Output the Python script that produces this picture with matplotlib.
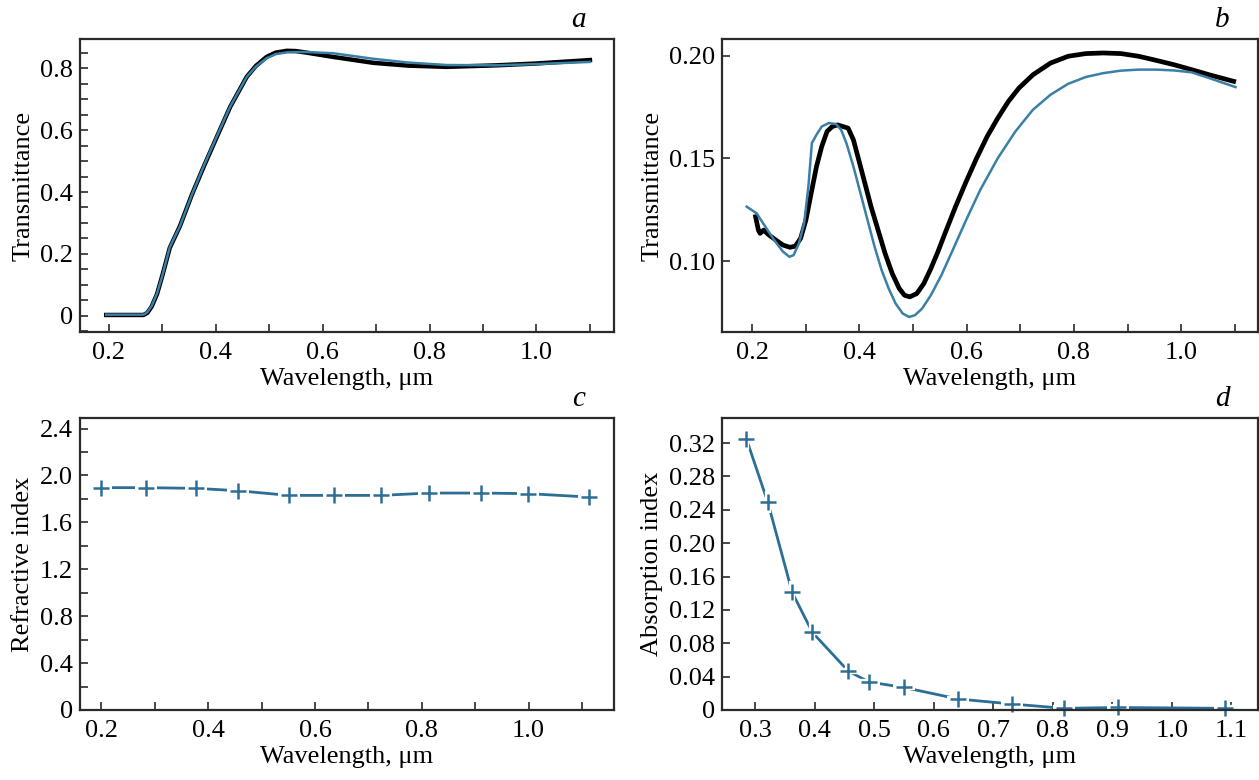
import numpy as np
import matplotlib
matplotlib.use("Agg")
import matplotlib.pyplot as plt
from matplotlib.ticker import MultipleLocator, FixedLocator, FuncFormatter

plt.rcParams['font.family'] = ['Liberation Serif', 'DejaVu Serif']
plt.rcParams['font.size'] = 19

blue = '#3a7fa6'
mark = '#2d6e96'

# panel a: measured (black) and calculated (blue) transmittance
wl_a_meas = [0.195, 0.265, 0.272, 0.28, 0.29, 0.3, 0.314, 0.333, 0.355, 0.377, 0.402, 0.427,
             0.458, 0.475, 0.495, 0.512, 0.533, 0.55, 0.57, 0.62, 0.695, 0.76, 0.832, 0.926, 1.0, 1.1]
t_a_meas = [0.003, 0.003, 0.01, 0.03, 0.07, 0.13, 0.22, 0.29, 0.39, 0.48, 0.578, 0.675,
            0.772, 0.807, 0.836, 0.85, 0.856, 0.855, 0.850, 0.836, 0.817, 0.808, 0.804, 0.809, 0.815, 0.826]
wl_a_calc = [0.195, 0.265, 0.272, 0.28, 0.29, 0.3, 0.314, 0.333, 0.355, 0.377, 0.402, 0.427,
             0.458, 0.475, 0.495, 0.512, 0.533, 0.55, 0.57, 0.62, 0.695, 0.76, 0.832, 0.926, 1.0, 1.1]
t_a_calc = [0.004, 0.004, 0.012, 0.032, 0.072, 0.13, 0.222, 0.29, 0.39, 0.482, 0.58, 0.676,
            0.772, 0.805, 0.832, 0.845, 0.851, 0.852, 0.852, 0.848, 0.83, 0.818, 0.810, 0.809, 0.813, 0.820]

# panel b
wl_b_meas = [0.2066, 0.2118, 0.215, 0.2217, 0.2315, 0.2446, 0.2577, 0.2709, 0.2807, 0.2906,
             0.3004, 0.3102, 0.3201, 0.3299, 0.3398, 0.3496, 0.3595, 0.3693, 0.3791, 0.389,
             0.3988, 0.4087, 0.4218, 0.4349, 0.448, 0.4612, 0.4743, 0.4841, 0.494, 0.5071,
             0.5202, 0.5333, 0.5465, 0.5596, 0.5793, 0.599, 0.6186, 0.6383, 0.658, 0.6777,
             0.6974, 0.7236, 0.7564, 0.7892, 0.822, 0.8549, 0.8877, 0.9205, 0.9533, 0.9862,
             1.019, 1.0518, 1.0976]
t_b_meas = [0.1216, 0.1151, 0.1135, 0.1151, 0.1127, 0.1102, 0.1078, 0.1067, 0.1073, 0.1111,
            0.12, 0.133, 0.146, 0.1558, 0.1631, 0.1655, 0.1663, 0.1655, 0.1647, 0.159,
            0.1493, 0.1395, 0.1265, 0.1151, 0.1037, 0.094, 0.0867, 0.0834, 0.0826, 0.0842,
            0.0891, 0.0964, 0.1046, 0.1135, 0.1265, 0.1387, 0.1501, 0.1607, 0.1696, 0.1777,
            0.1842, 0.1907, 0.1964, 0.1997, 0.201, 0.2013, 0.201, 0.1997, 0.1977, 0.1956,
            0.1932, 0.1907, 0.1875]
wl_b_calc = [0.190, 0.2085, 0.2249, 0.2413, 0.2577, 0.2696, 0.2774, 0.2873, 0.2971, 0.305,
             0.3115, 0.3201, 0.3299, 0.343, 0.3562, 0.366, 0.3759, 0.389, 0.4021, 0.4152,
             0.4284, 0.4415, 0.4546, 0.4677, 0.4808, 0.4927, 0.5038, 0.5169, 0.5333, 0.553,
             0.5727, 0.599, 0.6252, 0.658, 0.6908, 0.7236, 0.7564, 0.7892, 0.822, 0.8549,
             0.8877, 0.9205, 0.9533, 0.9862, 1.019, 1.0518, 1.101]
t_b_calc = [0.1265, 0.1233, 0.1167, 0.1102, 0.1046, 0.1021, 0.1029, 0.1086, 0.1184, 0.1363,
            0.1574, 0.1615, 0.1655, 0.1672, 0.1667, 0.1639, 0.1574, 0.146, 0.133, 0.12,
            0.107, 0.0956, 0.0867, 0.0793, 0.0745, 0.0728, 0.0737, 0.0769, 0.0834, 0.0932,
            0.1046, 0.12, 0.1346, 0.1501, 0.1631, 0.1737, 0.181, 0.1863, 0.1896, 0.1915,
            0.1927, 0.1932, 0.1932, 0.1928, 0.1919, 0.1891, 0.1847]

# panel c
wl_c = [0.2, 0.283, 0.377, 0.456, 0.551, 0.635, 0.724, 0.813, 0.910, 0.999, 1.113]
n_c = [1.896, 1.896, 1.89, 1.87, 1.83, 1.83, 1.83, 1.85, 1.85, 1.845, 1.816]

# panel d
wl_d = [0.285, 0.321, 0.362, 0.396, 0.456, 0.491, 0.550, 0.641, 0.731, 0.819, 0.909, 1.089]
k_d = [0.325, 0.249, 0.141, 0.093, 0.0468, 0.0336, 0.027, 0.0132, 0.0072, 0.002, 0.003, 0.002]

W, H = 1259, 780
fig = plt.figure(figsize=(W / 100, H / 100), dpi=100)


def box(l, r, t, b):
    return [l / W, 1 - b / H, (r - l) / W, (b - t) / H]


ax_a = fig.add_axes(box(80, 614, 39, 332))
ax_b = fig.add_axes(box(722, 1258, 39, 332))
ax_c = fig.add_axes(box(80, 614, 418, 710))
ax_d = fig.add_axes(box(722, 1258, 418, 710))


def zero_fmt(digits):
    return FuncFormatter(lambda v, p: '0' if abs(v) < 1e-9 else f'{v:.{digits}f}')


for ax in (ax_a, ax_b, ax_c, ax_d):
    for s in ax.spines.values():
        s.set_linewidth(1.6)
        s.set_color('#2a2a2a')
    ax.tick_params(which='both', direction='in', length=6, width=1.2, color='#2a2a2a',
                   labelsize=19, pad=5)
    ax.tick_params(axis='x', which='both', pad=7)
    ax.set_xlabel('Wavelength, μm', fontsize=19, labelpad=3)

ax_a.plot(wl_a_meas, t_a_meas, color='black', lw=3.2)
ax_a.plot(wl_a_calc, t_a_calc, color=blue, lw=1.8)
ax_a.set_xlim(0.146, 1.145)
ax_a.set_ylim(-0.052, 0.894)
ax_a.xaxis.set_major_locator(FixedLocator([0.2, 0.4, 0.6, 0.8, 1.0]))
ax_a.xaxis.set_minor_locator(MultipleLocator(0.1))
ax_a.xaxis.set_major_formatter(zero_fmt(1))
ax_a.yaxis.set_major_locator(MultipleLocator(0.2))
ax_a.yaxis.set_minor_locator(MultipleLocator(0.05))
ax_a.yaxis.set_major_formatter(zero_fmt(1))
ax_a.set_ylabel('Transmittance', fontsize=19, labelpad=4)

ax_b.plot(wl_b_meas, t_b_meas, color='black', lw=3.4)
ax_b.plot(wl_b_calc, t_b_calc, color=blue, lw=1.8)
ax_b.set_xlim(0.144, 1.143)
ax_b.set_ylim(0.0655, 0.2081)
ax_b.xaxis.set_major_locator(FixedLocator([0.2, 0.4, 0.6, 0.8, 1.0]))
ax_b.xaxis.set_minor_locator(MultipleLocator(0.1))
ax_b.xaxis.set_major_formatter(zero_fmt(1))
ax_b.yaxis.set_major_locator(FixedLocator([0.10, 0.15, 0.20]))
ax_b.yaxis.set_major_formatter(zero_fmt(2))
ax_b.set_ylabel('Transmittance', fontsize=19, labelpad=4)


def marked(ax, x, y):
    ax.plot(x, y, color=mark, lw=2)
    ax.plot(x, y, ls='none', marker='+', ms=16, mew=4.5, color='white', clip_on=False)
    ax.plot(x, y, ls='none', marker='+', ms=12, mew=1.8, color=mark, clip_on=False)


marked(ax_c, wl_c, n_c)
ax_c.set_xlim(0.16, 1.16)
ax_c.set_ylim(0, 2.49)
ax_c.xaxis.set_major_locator(FixedLocator([0.2, 0.4, 0.6, 0.8, 1.0]))
ax_c.xaxis.set_minor_locator(MultipleLocator(0.1))
ax_c.xaxis.set_major_formatter(zero_fmt(1))
ax_c.yaxis.set_major_locator(MultipleLocator(0.4))
ax_c.yaxis.set_minor_locator(MultipleLocator(0.2))
ax_c.yaxis.set_major_formatter(zero_fmt(1))
ax_c.set_ylabel('Refractive index', fontsize=19, labelpad=4)

marked(ax_d, wl_d, k_d)
ax_d.set_xlim(0.244, 1.145)
ax_d.set_ylim(0, 0.35)
ax_d.xaxis.set_major_locator(MultipleLocator(0.1))
ax_d.xaxis.set_major_formatter(zero_fmt(1))
ax_d.yaxis.set_major_locator(MultipleLocator(0.04))
ax_d.yaxis.set_major_formatter(zero_fmt(2))
ax_d.set_ylabel('Absorption index', fontsize=19, labelpad=4)

for ax in (ax_a, ax_b, ax_c, ax_d):
    for s in ax.spines.values():
        s.set_zorder(5)

for ax, letter in ((ax_a, 'a'), (ax_b, 'b'), (ax_c, 'c'), (ax_d, 'd')):
    ax.text(0.933, 1.065, letter, transform=ax.transAxes, ha='center', va='center',
            fontsize=21, style='italic')

fig.savefig('out.png', dpi=100)
